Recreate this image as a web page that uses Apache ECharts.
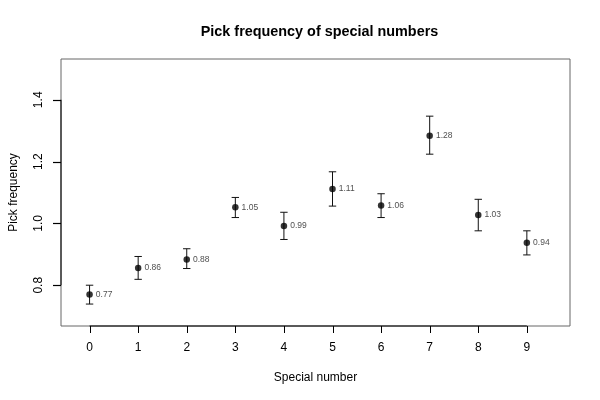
<!DOCTYPE html>
<html><head><meta charset="utf-8">
<script src="https://cdn.jsdelivr.net/npm/echarts@6/dist/echarts.min.js"></script>
<style>html,body{margin:0;padding:0;background:#fff}#c{width:600px;height:400px}</style>
</head><body><div id="c"></div>
<script>
const specials = [0,1,2,3,4,5,6,7,8,9];
const freq  = [0.770,0.856,0.883,1.052,0.992,1.111,1.058,1.284,1.027,0.937];
const lower = [0.739,0.819,0.854,1.019,0.948,1.056,1.019,1.224,0.976,0.898];
const upper = [0.800,0.893,0.918,1.084,1.036,1.167,1.096,1.347,1.078,0.976];
const xTicks = [0,1,2,3,4,5,6,7,8,9];
const yTicks = [0.8,1.0,1.2,1.4];

const FONT = 'Liberation Sans, Arial, Helvetica, sans-serif';
const chart = echarts.init(document.getElementById('c'), null, {renderer:'canvas'});

const pts = specials.map((s,i)=>[s,freq[i]]);
const errs = specials.map((s,i)=>[s,lower[i],upper[i]]);

chart.setOption({
  animation:false,
  backgroundColor:'#fff',
  title:{text:'Pick frequency of special numbers', left:314.5, top:20, textAlign:'center',
    textStyle:{fontFamily:FONT,fontSize:14.4,fontWeight:'bold',color:'#000'}},
  grid:{left:59,right:30,top:59,bottom:74,show:true,borderColor:'#666',borderWidth:1,backgroundColor:'transparent'},
  xAxis:{type:'value',min:-0.588,max:9.888,
    name:'Special number',nameLocation:'middle',nameGap:46,
    nameTextStyle:{fontFamily:FONT,fontSize:12,color:'#000'},
    axisLine:{show:false,onZero:false},
    axisTick:{show:false},
    axisLabel:{customValues:xTicks,margin:16,fontFamily:FONT,fontSize:12,color:'#000'},
    splitLine:{show:false}},
  yAxis:{type:'value',min:0.668,max:1.532,
    name:'Pick frequency',nameLocation:'middle',nameGap:41,nameRotate:90,
    nameTextStyle:{fontFamily:FONT,fontSize:12,color:'#000'},
    axisLine:{show:false,onZero:false},
    axisTick:{show:false},
    axisLabel:{customValues:yTicks,rotate:90,margin:16,fontFamily:FONT,fontSize:12,color:'#000',
      formatter:v=>v.toFixed(1)},
    splitLine:{show:false}},
  series:[
    {type:'custom',data:[[0]],silent:true,z:3,clip:false,
     renderItem:function(params,api){
       const cs = params.coordSys;
       const bottom = cs.y+cs.height, left = cs.x;
       const st = {stroke:'#000',lineWidth:1};
       const x0 = api.coord([xTicks[0],0.7])[0], x1 = api.coord([xTicks[xTicks.length-1],0.7])[0];
       const y0 = api.coord([0,yTicks[0]])[1], y1 = api.coord([0,yTicks[yTicks.length-1]])[1];
       const kids = [
         {type:'line',shape:{x1:x0,y1:bottom,x2:x1,y2:bottom},style:st},
         {type:'line',shape:{x1:left,y1:y0,x2:left,y2:y1},style:st}
       ];
       xTicks.forEach(t=>{const px=Math.round(api.coord([t,0.7])[0])+0.5;
         kids.push({type:'line',shape:{x1:px,y1:bottom,x2:px,y2:bottom+7},style:st});});
       yTicks.forEach(t=>{const py=Math.round(api.coord([0,t])[1])+0.5;
         kids.push({type:'line',shape:{x1:left-8,y1:py,x2:left,y2:py},style:{stroke:'#000',lineWidth:1.2}});});
       return {type:'group',children:kids};
     }},
    {type:'custom',data:errs,silent:true,z:4,
     renderItem:function(params,api){
       const x = api.value(0);
       const lo = api.coord([x,api.value(1)]);
       const hi = api.coord([x,api.value(2)]);
       const w = 3.7;
       const st = {stroke:'#111',lineWidth:1};
       return {type:'group',children:[
         {type:'line',shape:{x1:lo[0],y1:lo[1],x2:hi[0],y2:hi[1]},style:st},
         {type:'line',shape:{x1:lo[0]-w,y1:lo[1],x2:lo[0]+w,y2:lo[1]},style:st},
         {type:'line',shape:{x1:hi[0]-w,y1:hi[1],x2:hi[0]+w,y2:hi[1]},style:st}
       ]};
     }},
    {type:'scatter',data:pts,symbol:'circle',symbolSize:6.5,z:5,
     itemStyle:{color:'#000'},
     label:{show:true,position:'right',distance:3,fontFamily:FONT,fontSize:8.5,color:'#222',
       formatter:p=>p.value[1].toFixed(2)}}
  ]
});
</script></body></html>
